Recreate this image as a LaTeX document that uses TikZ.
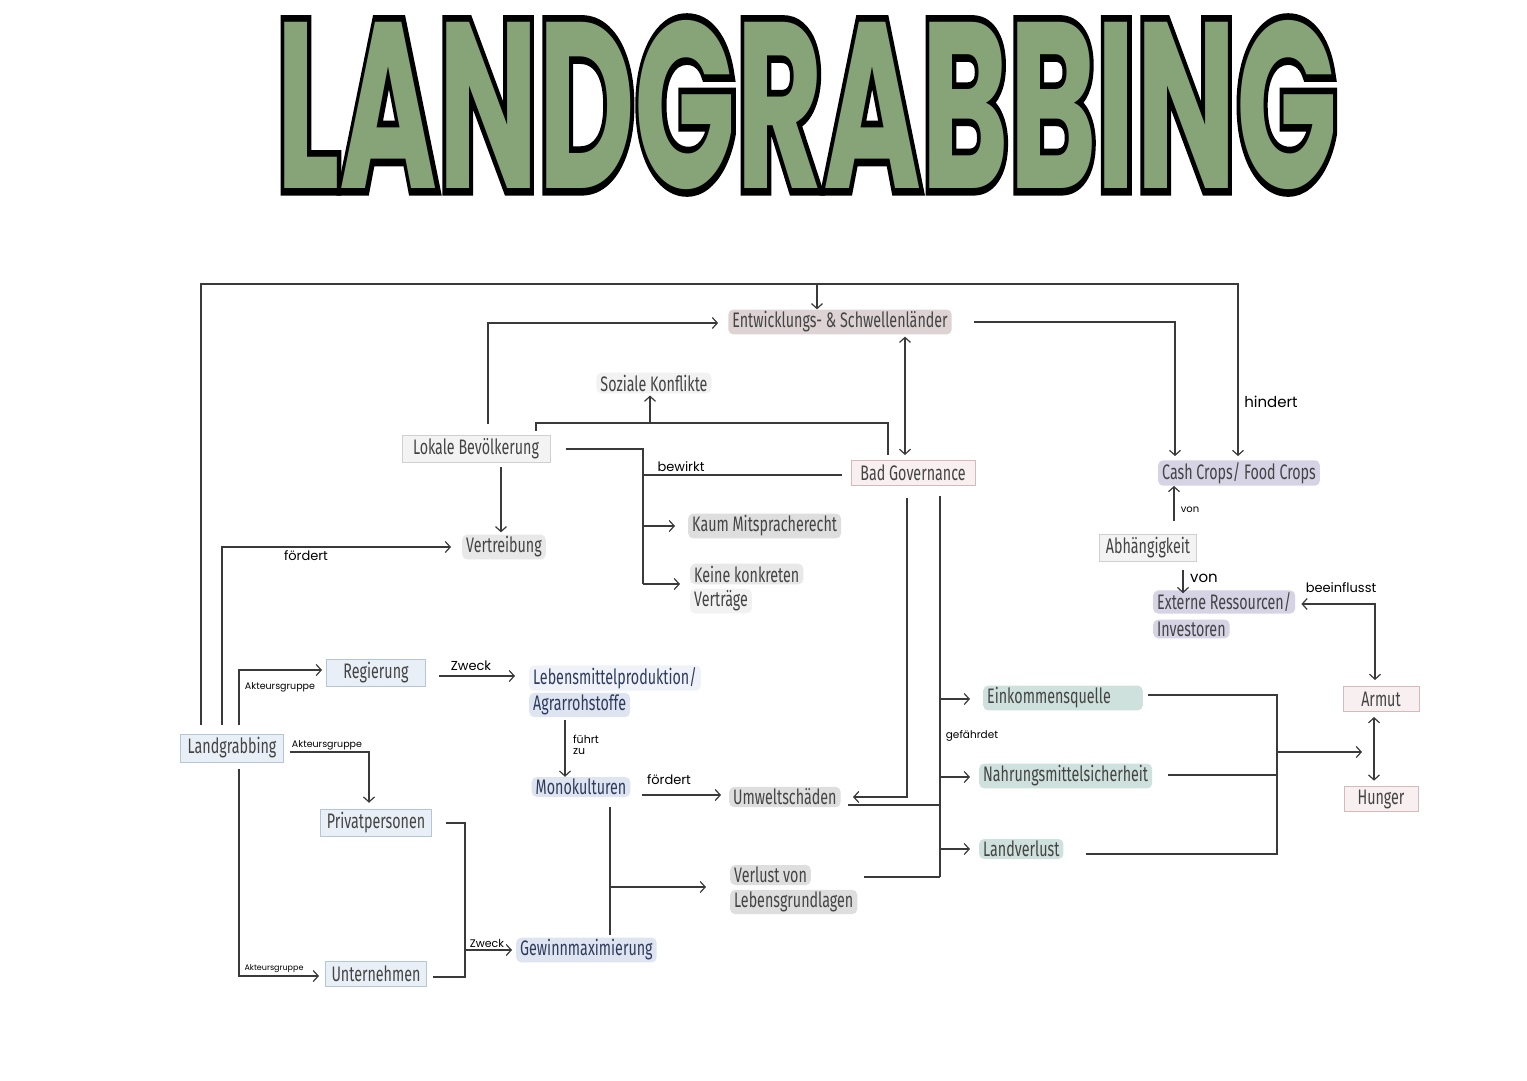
\documentclass[tikz,border=0pt]{standalone}
\usepackage{graphicx}
\usepackage{fontspec}
\setmainfont{Fira Sans}[FakeStretch=0.68]
\newfontfamily\hand{Poppins}
\newfontfamily\titlefont{Poppins}
\newfontfamily\titleout{Poppins}[BoldFeatures={FakeBold=6}]
\usetikzlibrary{arrows.meta,calc}
\definecolor{ln}{HTML}{3A3A3A}
\definecolor{txt}{HTML}{444444}
\definecolor{navy}{HTML}{2E3B5C}
\definecolor{bfill}{HTML}{E9EFF6}
\definecolor{bdraw}{HTML}{B5C6D8}
\definecolor{gfill}{HTML}{F3F3F3}
\definecolor{gdraw}{HTML}{D0D0D0}
\definecolor{pfill}{HTML}{F8EFF0}
\definecolor{pdraw}{HTML}{D5B9BD}
\definecolor{hlgrey}{HTML}{DEDEDE}
\definecolor{hlpink}{HTML}{DDD3D5}
\definecolor{hlblue}{HTML}{DFE5F0}
\definecolor{hlgreen}{HTML}{CFE1DC}
\definecolor{hlpurple}{HTML}{D6D3E5}
\definecolor{titlegreen}{HTML}{86A478}
\newcommand\ttext{\resizebox{1060pt}{168pt}{\titlefont\bfseries LANDGRABBING}}
\newcommand\ttextout{\resizebox{1060pt}{168pt}{\titleout\bfseries LANDGRABBING}}
\tikzset{
  conn/.style={draw=ln, line width=1.3pt},
  arr/.style={conn, -{Straight Barb[length=5pt,width=11pt,line width=1.2pt]}},
  arrb/.style={conn, {Straight Barb[length=5pt,width=11pt,line width=1.2pt]}-{Straight Barb[length=5pt,width=11pt,line width=1.2pt]}},
  nbox/.style={line width=1pt, minimum height=25pt, inner xsep=6pt, text=txt, font=\fontsize{21}{24}\selectfont},
  bluebox/.style={nbox, fill=bfill, draw=bdraw},
  greybox/.style={nbox, fill=gfill, draw=gdraw},
  pinkbox/.style={nbox, fill=pfill, draw=pdraw},
  hl/.style={fill=#1, rounded corners=5pt, inner xsep=4pt, inner ysep=2pt, text=txt, font=\fontsize{21}{24}\selectfont},
  hw/.style={font=\hand\fontsize{#1}{#1}\selectfont, text=black, inner sep=0pt}
}
\begin{document}
\begin{tikzpicture}[x=1pt,y=-1pt]
\fill[white] (0,0) rectangle (1527,1080);
\useasboundingbox (0,0) rectangle (1527,1080);
% title
\node[text=black, inner sep=0pt] (titleout) at (807,105) {\ttextout};
\node[text=titlegreen, inner sep=0pt] (title) at (807,105) {\ttext};
% boxes
\node[bluebox, minimum width=103pt, minimum height=28pt] (lg) at (232,748) {Landgrabbing};
\node[bluebox, minimum width=99pt] (reg) at (376,673) {Regierung};
\node[bluebox, minimum width=101pt] (priv) at (376,823) {Privatpersonen};
\node[bluebox, minimum width=100pt] (unt) at (376,974) {Unternehmen};
\node[greybox, minimum width=148pt] (lokal) at (476,449) {Lokale Bevölkerung};
\node[pinkbox, minimum width=124pt] (bad) at (913,473) {Bad Governance};
\node[greybox, minimum width=94pt, minimum height=22pt] (abh) at (1148,548) {Abhängigkeit};
\node[pinkbox, minimum width=76pt] (armut) at (1381,699) {Armut};
\node[pinkbox, minimum width=74pt, minimum height=24pt] (hunger) at (1381,799) {Hunger};
% highlighted texts
\node[hl=hlpink] (ent) at (840,322) {Entwicklungs- \& Schwellenländer};
\node[hl=hlgrey!40] (soz) at (654,383) {Soziale Konflikte};
\node[hl=hlgrey!70] (vert) at (504,547) {Vertreibung};
\node[hl=hlgrey, anchor=west] (kaum) at (688,526) {Kaum Mitspracherecht};
\node[hl=hlgrey!70, anchor=west] (keine1) at (690,574) {Keine konkreten};
\node[hl=hlgrey!40, anchor=west] (keine2) at (690,601) {Verträge};
\node[hl=hlblue!50, text=navy, anchor=west] (leb1) at (529,678) {Lebensmittelproduktion/};
\node[hl=hlblue, text=navy, anchor=west] (leb2) at (529,705) {Agrarrohstoffe};
\node[hl=hlblue, text=navy] (mono) at (581,787) {Monokulturen};
\node[hl=hlblue, text=navy, anchor=west] (gew) at (516,950) {Gewinnmaximierung};
\node[hl=hlgrey, anchor=west] (umw) at (729,797) {Umweltschäden};
\node[hl=hlgrey, anchor=west] (verl1) at (730,875) {Verlust von};
\node[hl=hlgrey, anchor=west] (verl2) at (730,902) {Lebensgrundlagen};
\node[hl=hlgreen, anchor=west] (eink) at (983,698) {Einkommensquelle\hspace*{28pt}};
\node[hl=hlgreen, anchor=west] (nahr) at (979,776) {Nahrungsmittelsicherheit};
\node[hl=hlgreen, anchor=west] (land) at (979,849) {Landverlust};
\node[hl=hlpurple] (cash) at (1239,473) {Cash Crops/ Food Crops};
\node[hl=hlpurple, anchor=west] (ext1) at (1153,602) {Externe Ressourcen/};
\node[hl=hlpurple, anchor=west] (ext2) at (1153,629) {Investoren};
% small handwritten labels
\node[hw=15] (lhind) at (1271,402) {hindert};
\node[hw=13] (lfoerd1) at (306,556) {fördert};
\node[hw=9.5] (lakt1) at (280,687) {Akteursgruppe};
\node[hw=9.5] (lakt2) at (327,745) {Akteursgruppe};
\node[hw=8] (lakt3) at (274,969) {Akteursgruppe};
\node[hw=13] (lzw1) at (471,666) {Zweck};
\node[hw=11, align=left] (lfuehrt) at (586,745) {führt\\ zu};
\node[hw=13] (lfoerd2) at (669,780) {fördert};
\node[hw=11] (lzw2) at (487,943) {Zweck};
\node[hw=13] (lbew) at (681,467) {bewirkt};
\node[hw=10] (lvon1) at (1190,510) {von};
\node[hw=15] (lvon2) at (1204,578) {von};
\node[hw=13] (lbeein) at (1341,588) {beeinflusst};
\node[hw=10.5] (lgef) at (972,736) {gefährdet};
% connectors
\draw[arr, shorten <=9pt, shorten >=4pt] (lg.north -| 201,0) |- (1238,284) -- (cash.north -| 1238,0);
\draw[arr] (817,284) -- (ent.north -| 817,0);
\draw[arr, shorten <=9pt, shorten >=11pt] (lg.north -| 222,0) |- (vert.west);
\draw[arr, shorten <=9pt, shorten >=4pt] (lg.north -| 239,0) |- ([yshift=3pt]reg.west);
\draw[arr, shorten <=6pt, shorten >=6pt] ([yshift=-4pt]lg.east) -| (priv.north -| 369,0);
\draw[arr, shorten <=6pt, shorten >=6pt] (lg.south -| 239,0) |- ([yshift=-2pt]unt.west);
\draw[arr, shorten <=13pt, shorten >=14pt] ([yshift=-3pt]reg.east) -- ([yshift=-3pt]reg.east -| leb1.west);
\draw[arr, shorten <=3pt] (leb2.south -| 565,0) -- (mono.north -| 565,0);
\draw[arr, shorten <=12pt, shorten >=8pt] ([yshift=-8pt]mono.east) -- ([yshift=-8pt]mono.east -| umw.west);
\draw[conn, shorten <=10pt, shorten >=2pt] (mono.south -| 610,0) -- (gew.north -| 610,0);
\coordinate (mj) at (610,887);
\draw[arr, shorten >=24pt] (mj) -- (verl1.west |- mj);
\draw[conn, shorten <=14pt] (priv.east) -| (465,977) -- (433,977);
\coordinate (gj) at (465,950);
\draw[arr, shorten >=4pt] (gj) -- (gew.west);
\draw[arr, shorten <=11pt, shorten >=10pt] (lokal.north -| 488,0) |- ([yshift=-1pt]ent.west);
\draw[arr, shorten <=4pt, shorten >=2pt] (lokal.south -| 501,0) -- (vert.north -| 501,0);
\draw[conn, shorten <=4pt, shorten >=5pt] (lokal.north -| 536,0) |- (888,423) -- (bad.north -| 888,0);
\coordinate (sj) at (650,423);
\draw[arr, shorten >=2pt] (sj) -- (soz.south -| sj);
\draw[conn, shorten <=15pt] (lokal.east) -| (643,584);
\coordinate (bj) at (643,475);
\coordinate (kj) at (643,526);
\coordinate (vj) at (643,584);
\draw[conn, shorten >=9pt] (bj) -- (bad.west |- bj);
\draw[arr, shorten >=13pt] (kj) -- (kaum.west |- kj);
\draw[arr, shorten >=10pt] (vj) -- (keine1.west |- vj);
\draw[arrb, shorten <=2pt, shorten >=5pt] (ent.south -| 905,0) -- (bad.north -| 905,0);
\draw[arr, shorten <=22pt, shorten >=4pt] (ent.east) -| (cash.north -| 1175,0);
\draw[arr, shorten <=13pt] (abh.north -| 1174,0) -- (cash.south -| 1174,0);
\draw[arr, shorten <=8pt, shorten >=-3pt] (abh.south -| 1183,0) -- (ext1.north -| 1183,0);
\draw[arrb, shorten <=6pt, shorten >=6pt] ([yshift=-2pt]ext1.east) -| (armut.north -| 1375,0);
\draw[arrb, shorten <=5pt, shorten >=5pt] (armut.south -| 1374,0) -- (hunger.north -| 1374,0);
\coordinate (uj) at (853,797);
\draw[arr, shorten <=12pt] (bad.south -| 907,0) |- (uj);
\coordinate (tb) at (940,877);
\draw[conn, shorten <=10pt] (bad.south -| 940,0) -- (tb);
\coordinate (ej) at (940,699);
\coordinate (nj) at (940,777);
\coordinate (lj) at (940,849);
\coordinate (wj) at (940,805);
\draw[arr, shorten >=13pt] (ej) -- (eink.west |- ej);
\draw[arr, shorten >=9pt] (nj) -- (nahr.west |- nj);
\draw[arr, shorten >=9pt] (lj) -- (land.west |- lj);
\draw[conn] (848,805) -- (wj);
\draw[conn] (864,877) -- (tb);
\coordinate (rj) at (1277,752);
\draw[conn, shorten <=5pt] ([yshift=3pt]eink.east) -| (1277,854) -- (1086,854);
\draw[conn] (1168,775) -- (1277,775);
\draw[arr] (rj) -- (1362,752);
\end{tikzpicture}
\end{document}
